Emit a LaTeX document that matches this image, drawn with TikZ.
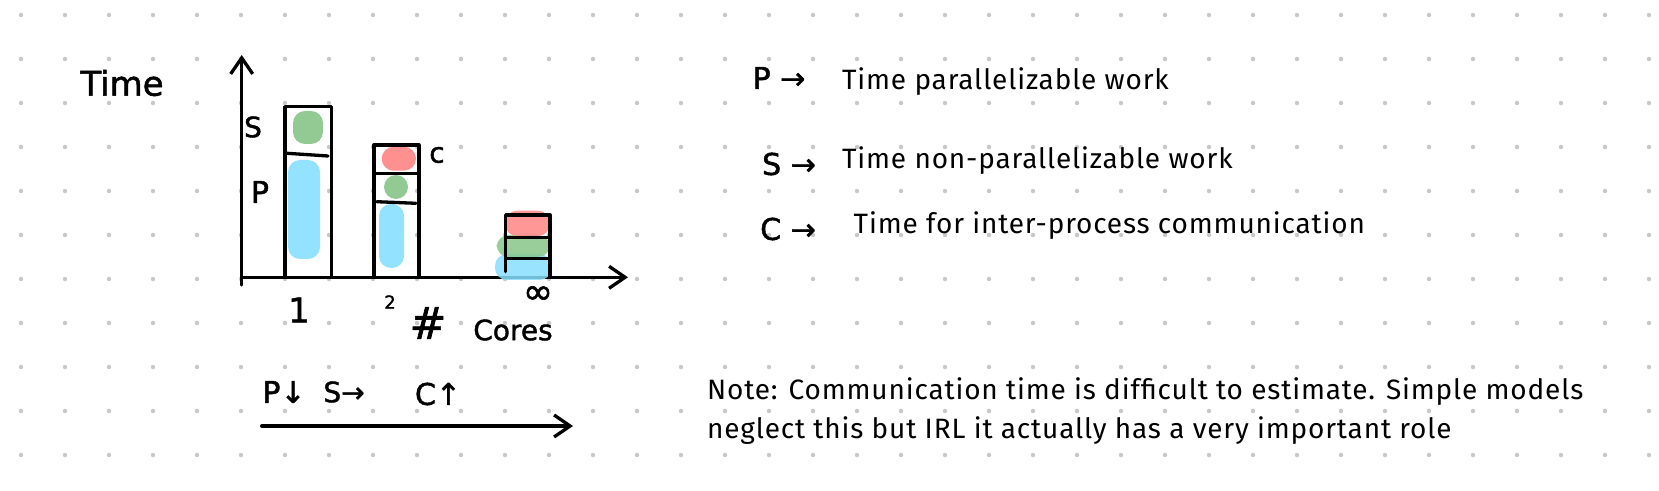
\documentclass[tikz,border=0pt]{standalone}
\usepackage{fontspec}
\setmainfont{Fira Sans}[LetterSpace=3]
\newfontfamily\handfont{DejaVu Sans}[FakeBold=1.5]
\usetikzlibrary{arrows.meta, positioning}

\definecolor{sgreen}{RGB}{136,197,137}
\definecolor{cred}{RGB}{255,133,133}
\definecolor{pblue}{RGB}{136,223,255}
\definecolor{griddot}{RGB}{200,200,200}

\tikzset{
    hand/.style={font=\handfont\fontsize{#1}{#1}\selectfont, inner sep=0pt},
    prose/.style={font=\fontsize{14}{16}\selectfont, inner sep=0pt, anchor=base west},
    barline/.style={line width=1.65pt},
    blob/.style={rounded corners=6pt, fill opacity=0.9},
}

\begin{document}
\begin{tikzpicture}[x=0.5pt, y=-0.5pt, line cap=round, line join=round,
    >={Straight Barb[length=8pt, width=11pt]}]
    % Page and dot grid
    \fill[white] (0,0) rectangle (1659,491);
    \useasboundingbox (0,0) rectangle (1659,491);
    \foreach \i in {0,...,37}
        \foreach \j in {0,...,10}
            \fill[griddot] (21+44*\i, 15+44*\j) circle[radius=1.1pt];

    % Axes
    \coordinate (O) at (241.7,277.3);
    \coordinate (ytop) at (241.7,55);
    \coordinate (ybot) at (241.7,285);
    \coordinate (xend) at (628,277.3);
    \draw[barline, ->] (ybot) -- (ytop);
    \draw[barline, ->] (O) -- (xend);
    \node[hand=17] (timelbl) at (122,83) {Time};

    % Bar for 1 core
    \fill[blob, sgreen] (293,111) rectangle (323,144);
    \fill[blob, pblue] (288,160) rectangle (320,259);
    \draw[barline] (285,106.7) rectangle (331.7,277.3);
    \draw[barline] (287,153.3) -- (328,156);
    \node[hand=14] (slbl) at (253,127) {S};
    \node[hand=15] (plbl) at (260,192) {P};

    % Bar for 2 cores
    \fill[blob, cred] (381.7,146.7) rectangle (416,170.7);
    \fill[blob, sgreen] (384,175) rectangle (408,199);
    \fill[blob, pblue] (379,204) rectangle (404,268);
    \draw[barline] (374,145) rectangle (419,277.3);
    \draw[barline] (374,173.3) -- (419,173.3);
    \draw[barline] (376.7,201.7) -- (416,203.3);
    \node[hand=14] (clbl) at (437,155) {c};

    % Bar for infinitely many cores
    \fill[blob, pblue, fill opacity=0.85] (495,254) rectangle (551.7,280);
    \fill[blob, sgreen, fill opacity=0.85] (496.7,235) rectangle (550,257);
    \fill[blob, cred, fill opacity=0.85] (505,210.7) rectangle (550,236);
    \draw[barline] (505.7,271.7) -- (505.7,215) -- (550,215) -- (550,277.3);
    \draw[barline] (505.7,237.3) -- (550,237.3);
    \draw[barline] (505.7,258.3) -- (550,258.3);

    % Labels under the x axis
    \node[hand=17] (core1) at (299,310) {1};
    \node[hand=9] (core2) at (390,302) {2};
    \node[hand=18] (coreinf) at (538,295) {∞};
    \node[hand=22] (hash) at (428,323) {\#};
    \node[hand=14] (coreslbl) at (513,330) {Cores};

    % Trend arrow
    \node[hand=15] (trendp) at (284,392) {P↓};
    \node[hand=14] (trends) at (344,392) {S→};
    \node[hand=15] (trendc) at (438,394) {C↑};
    \coordinate (tstart) at (261.7,426);
    \coordinate (tend) at (573,426);
    \draw[barline, ->] (tstart) -- (tend);

    % Legend
    \node[hand=15] (keyp) at (779,78) {P →};
    \node[hand=15] (keys) at (789,164) {S →};
    \node[hand=15] (keyc) at (788,229) {C →};
    \node[prose] (descp) at (841.7,90) {Time parallelizable work};
    \node[prose] (descs) at (841.7,168.3) {Time non-parallelizable work};
    \node[prose] (descc) at (853.3,233.3) {Time for inter-process communication};

    % Note
    \node[prose] (note1) at (706.7,400) {Note: Communication time is difficult to estimate. Simple models};
    \node[prose] (note2) at (706.7,438.3) {neglect this but IRL it actually has a very important role};
\end{tikzpicture}
\end{document}
